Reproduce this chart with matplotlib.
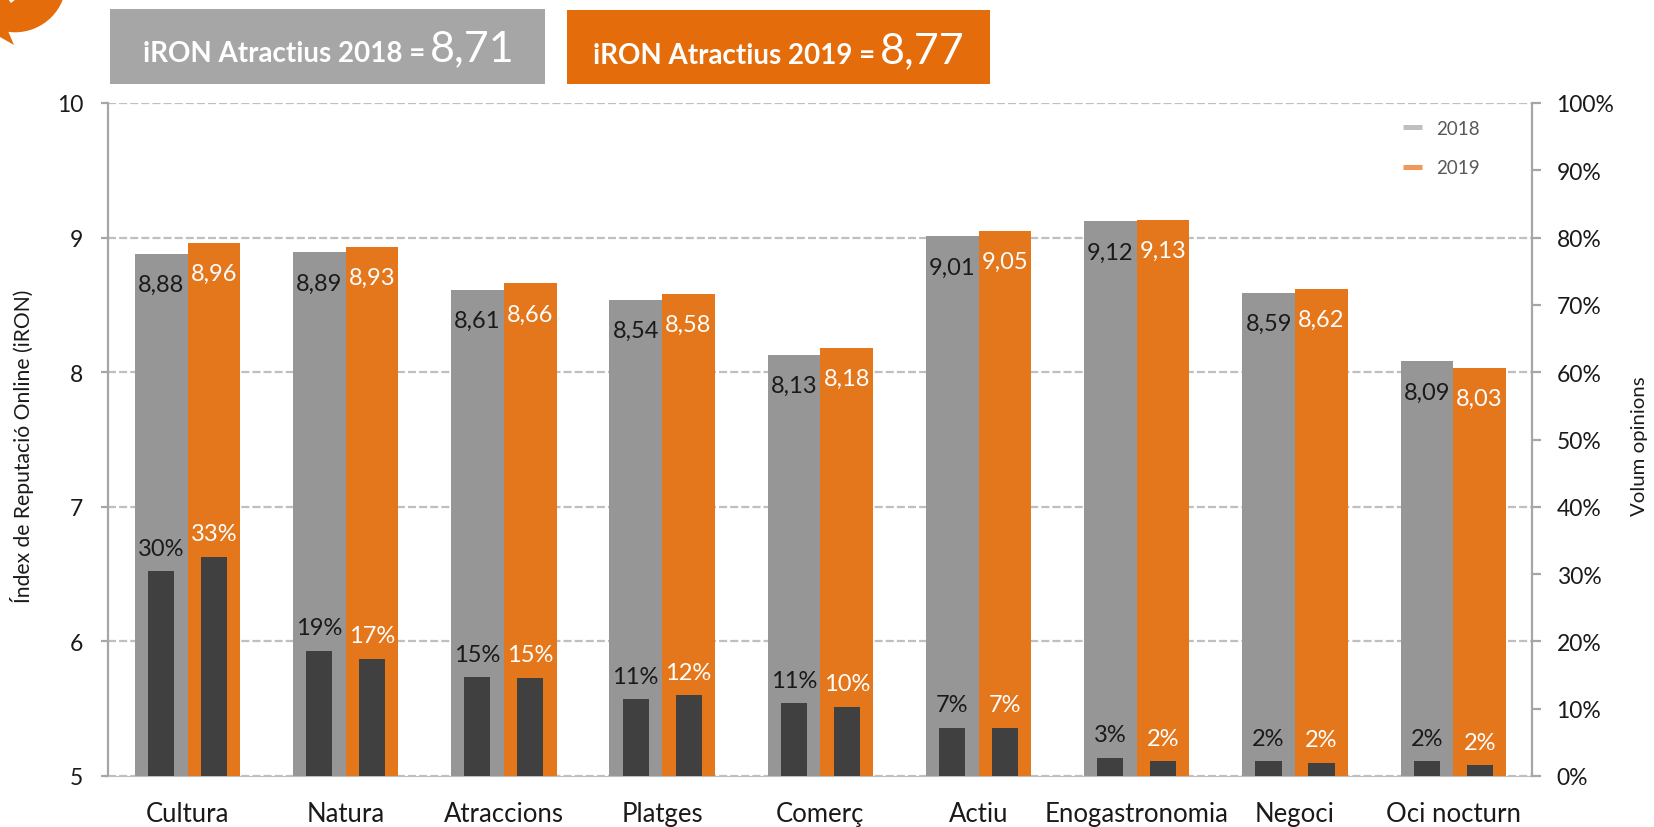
import matplotlib
matplotlib.use("Agg")
import matplotlib.pyplot as plt
from matplotlib.lines import Line2D
from matplotlib.patches import Rectangle, Circle, Polygon
from matplotlib.transforms import IdentityTransform

W, H = 1654, 828
plt.rcParams['font.family'] = ['Lato', 'DejaVu Sans']

categories = ["Cultura", "Natura", "Atraccions", "Platges", "Comerç", "Actiu",
              "Enogastronomia", "Negoci", "Oci nocturn"]
iron_2018 = [8.88, 8.89, 8.61, 8.54, 8.13, 9.01, 9.12, 8.59, 8.08]
iron_2019 = [8.96, 8.93, 8.66, 8.58, 8.18, 9.05, 9.13, 8.62, 8.03]
iron_labels_2018 = ["8,88", "8,89", "8,61", "8,54", "8,13", "9,01", "9,12", "8,59", "8,09"]
iron_labels_2019 = ["8,96", "8,93", "8,66", "8,58", "8,18", "9,05", "9,13", "8,62", "8,03"]
vol_2018 = [30.4, 18.6, 14.7, 11.4, 10.8, 7.2, 2.7, 2.2, 2.2]
vol_2019 = [32.6, 17.4, 14.6, 12.0, 10.3, 7.2, 2.2, 2.0, 1.6]
vol_labels_2018 = ["30%", "19%", "15%", "11%", "11%", "7%", "3%", "2%", "2%"]
vol_labels_2019 = ["33%", "17%", "15%", "12%", "10%", "7%", "2%", "2%", "2%"]
left_ticks = [5, 6, 7, 8, 9, 10]
right_ticks = list(range(0, 101, 10))

GRAY, ORANGE, DARK = "#969696", "#E4761C", "#404040"

fig = plt.figure(figsize=(W / 100, H / 100), dpi=100, facecolor="white")
L, R, T, B = 108.4, 1532.3, 104, 777
ax = fig.add_axes([L / W, 1 - B / H, (R - L) / W, (B - T) / H])
ax2 = ax.twinx()
ax.set_xlim(0, 9)
ax.set_ylim(5, 10)
ax2.set_ylim(0, 100)
ax.set_axisbelow(True)
ax.yaxis.grid(True, color="#BFBFBF", ls=(0, (3.6, 1.4)), lw=1.6)
ax.xaxis.grid(False)

bw, dw, off = 0.333, 0.165, 0.1675
for i in range(len(categories)):
    c = i + 0.5
    ax.bar(c - bw / 2, iron_2018[i] - 5, bw, bottom=5, color=GRAY, zorder=2)
    ax.bar(c + bw / 2, iron_2019[i] - 5, bw, bottom=5, color=ORANGE, zorder=2)
    ax.annotate(iron_labels_2018[i], (c - bw / 2, iron_2018[i]), xytext=(0, -14.5), textcoords="offset points",
                ha="center", va="top", fontsize=17, color="#1A1A1A", zorder=5)
    ax.annotate(iron_labels_2019[i], (c + bw / 2, iron_2019[i]), xytext=(0, -14.5), textcoords="offset points",
                ha="center", va="top", fontsize=17, color="white", zorder=5)
    ax2.bar(c - off, vol_2018[i], dw, color=DARK, zorder=3)
    ax2.bar(c + off, vol_2019[i], dw, color=DARK, zorder=3)
    ax2.annotate(vol_labels_2018[i], (c - off, vol_2018[i]), xytext=(0, 9), textcoords="offset points",
                 ha="center", va="bottom", fontsize=17, color="#1A1A1A", zorder=5)
    ax2.annotate(vol_labels_2019[i], (c + off, vol_2019[i]), xytext=(0, 9), textcoords="offset points",
                 ha="center", va="bottom", fontsize=17, color="white", zorder=5)

ax.set_zorder(1)
ax2.set_zorder(2)
ax2.patch.set_visible(False)

for a in (ax, ax2):
    for s in a.spines.values():
        s.set_visible(False)
ax.spines["left"].set_visible(True)
ax.spines["left"].set_color("#A6A6A6")
ax.spines["left"].set_linewidth(1.6)
ax2.spines["right"].set_visible(True)
ax2.spines["right"].set_color("#A6A6A6")
ax2.spines["right"].set_linewidth(1.6)
ax.spines["bottom"].set_visible(True)
ax.spines["bottom"].set_color("#BFBFBF")
ax.spines["bottom"].set_linewidth(0.8)
ax.spines["bottom"].set_linestyle((0, (1, 1)))

ax.set_xticks([i + 0.5 for i in range(len(categories))])
ax.set_xticklabels(categories, fontsize=18.5, color="#1A1A1A")
ax.tick_params(axis="x", length=0, pad=18)
ax.set_yticks(left_ticks)
ax.set_yticklabels([str(v) for v in left_ticks], fontsize=16.5, color="#1A1A1A")
ax.tick_params(axis="y", length=5, width=1.6, color="#A6A6A6", pad=13)
ax2.set_yticks(right_ticks)
ax2.set_yticklabels([f"{v}%" for v in right_ticks], fontsize=16.5, color="#1A1A1A")
ax2.tick_params(axis="y", length=6.5, width=1.6, color="#A6A6A6", pad=11)

fig.text(22 / W, 1 - 446 / H, "Índex de Reputació Online (iRON)", rotation=90, ha="center", va="center",
         fontsize=15.2, color="#1A1A1A")
fig.text(1639 / W, 1 - 446 / H, "Volum opinions", rotation=90, ha="center", va="center",
         fontsize=14.7, color="#1A1A1A")

handles = [Line2D([], [], color="#BFBFBF", lw=3.6, solid_capstyle="butt", label="2018"),
           Line2D([], [], color="#F2975A", lw=3.6, solid_capstyle="butt", label="2019")]
ax2.legend(handles=handles, frameon=False, loc="upper left",
           bbox_to_anchor=((1403 - L) / (R - L), 1 - (121 - T) / (B - T)),
           fontsize=13.5, labelcolor="#595959", handlelength=1.0,
           handletextpad=0.74, labelspacing=1.18, borderpad=0, borderaxespad=0)


def px_rect(x0, y0, x1, y1, color):
    fig.add_artist(Rectangle((x0 / W, 1 - y1 / H), (x1 - x0) / W, (y1 - y0) / H,
                             transform=fig.transFigure, facecolor=color, edgecolor="none"))


px_rect(110, 9.5, 545, 84.5, "#A6A6A6")
px_rect(567, 10.5, 990, 84.5, "#E46C0A")
fig.text(143 / W, 1 - 54 / H, "iRON Atractius 2018 =", ha="left", va="center", fontsize=20,
         fontweight="bold", color="white")
fig.text(430 / W, 1 - 49 / H, "8,71", ha="left", va="center", fontsize=31, color="white")
fig.text(593 / W, 1 - 56 / H, "iRON Atractius 2019 =", ha="left", va="center", fontsize=20,
         fontweight="bold", color="white")
fig.text(880 / W, 1 - 51 / H, "8,77", ha="left", va="center", fontsize=31, color="white")

# Corner badge
identity = IdentityTransform()
fig.add_artist(Circle((15, H + 18), 51.3, transform=identity, facecolor="#E46C0A", edgecolor="none"))
fig.add_artist(Polygon([(8, H - 32), (14, H - 46), (0, H - 38), (0, H - 28)], closed=True,
                       transform=identity, facecolor="#E46C0A", edgecolor="none"))
fig.add_artist(Polygon([(8, H - 0), (16, H - 0), (11, H - 4)], closed=True,
                       transform=identity, facecolor="white", edgecolor="none"))

fig.savefig("out.png", dpi=100)
